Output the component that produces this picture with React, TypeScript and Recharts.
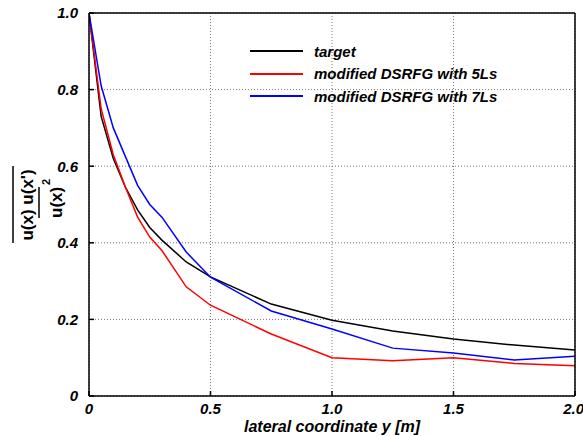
import React from 'react';
import { LineChart, Line, XAxis, YAxis, CartesianGrid } from 'recharts';

const lateralY = [0, 0.05, 0.1, 0.15, 0.2, 0.25, 0.3, 0.4, 0.5, 0.75, 1.0, 1.25, 1.5, 1.75, 2.0];
const target = [1.0, 0.73, 0.62, 0.545, 0.486, 0.44, 0.407, 0.35, 0.311, 0.24, 0.198, 0.17, 0.149, 0.133, 0.12];
const dsrfg5 = [1.0, 0.75, 0.63, 0.545, 0.467, 0.415, 0.38, 0.285, 0.237, 0.162, 0.1, 0.092, 0.1, 0.085, 0.079];
const dsrfg7 = [1.0, 0.81, 0.7, 0.625, 0.55, 0.5, 0.467, 0.376, 0.31, 0.222, 0.175, 0.125, 0.112, 0.094, 0.104];

const xTicks = [0, 0.5, 1.0, 1.5, 2.0];
const yTicks = [0, 0.2, 0.4, 0.6, 0.8, 1.0];

const seriesNames = ['target', 'modified DSRFG with 5Ls', 'modified DSRFG with 7Ls'];
const seriesColors = ['#000000', '#ff0000', '#0000ff'];

const data = lateralY.map((y, i) => ({ y, target: target[i], dsrfg5: dsrfg5[i], dsrfg7: dsrfg7[i] }));

const font = 'Liberation Sans, Arial, sans-serif';
const fmt = (v: number) => (v === 0 ? '0' : v.toFixed(1));
const tickStyle = { fontFamily: font, fontSize: 15, fontWeight: 'bold', fontStyle: 'italic', fill: '#000' };

export default function App() {
  return (
    <div style={{ position: 'absolute', left: 0, top: 0, width: 583, height: 436, background: '#fff' }}>
      <LineChart width={583} height={436} data={data} margin={{ top: 12, right: 7, bottom: 15, left: 39 }}>
        <CartesianGrid stroke="#555" strokeDasharray="1 2" strokeWidth={0.8} />
        <XAxis
          dataKey="y"
          type="number"
          domain={[0, 2]}
          ticks={xTicks}
          tickFormatter={fmt}
          height={25}
          stroke="#000"
          strokeWidth={1.5}
          tickSize={-5}
          tickMargin={12}
          tick={tickStyle}
          allowDataOverflow
        />
        <XAxis xAxisId="top" orientation="top" dataKey="y" type="number" domain={[0, 2]} ticks={xTicks} height={1} stroke="#000" strokeWidth={1.5} tickSize={-5} tick={false} />
        <YAxis
          type="number"
          domain={[0, 1]}
          ticks={yTicks}
          tickFormatter={fmt}
          width={50}
          stroke="#000"
          strokeWidth={1.5}
          tickSize={-5}
          tickMargin={16}
          tick={tickStyle}
        />
        <YAxis yAxisId="right" orientation="right" type="number" domain={[0, 1]} ticks={yTicks} width={1} stroke="#000" strokeWidth={1.5} tickSize={-5} tick={false} />
        <Line dataKey="target" name={seriesNames[0]} stroke={seriesColors[0]} strokeWidth={1.5} dot={false} isAnimationActive={false} />
        <Line dataKey="dsrfg5" name={seriesNames[1]} stroke={seriesColors[1]} strokeWidth={1.5} dot={false} isAnimationActive={false} />
        <Line dataKey="dsrfg7" name={seriesNames[2]} stroke={seriesColors[2]} strokeWidth={1.5} dot={false} isAnimationActive={false} />
      </LineChart>
      <div style={{ position: 'absolute', left: 250, top: 40, fontFamily: font, fontSize: 15, fontWeight: 'bold', fontStyle: 'italic' }}>
        {seriesNames.map((n, i) => (
          <div key={n} style={{ display: 'flex', alignItems: 'center', height: 22.5 }}>
            <span style={{ display: 'inline-block', width: 53, height: 2, background: seriesColors[i], marginRight: 11 }} />
            <span>{n}</span>
          </div>
        ))}
      </div>
      <div style={{ position: 'absolute', left: 89, width: 486, top: 419, lineHeight: '16px', textAlign: 'center', fontFamily: font, fontSize: 16, fontWeight: 'bold', fontStyle: 'italic' }}>
        lateral coordinate y [m]
      </div>
      <svg width={80} height={436} style={{ position: 'absolute', left: 0, top: 0 }}>
        <g fontFamily={font} fontWeight="bold" fontSize={17} fill="#000">
          <text transform="translate(33,205) rotate(-90)" textAnchor="middle">u(x) u(x')</text>
          <line x1={13} y1={166} x2={13} y2={243} stroke="#000" strokeWidth={1.5} />
          <line x1={39} y1={187} x2={39} y2={218} stroke="#000" strokeWidth={1.5} />
          <text transform="translate(62,218) rotate(-90)" textAnchor="start">u(x)</text>
          <text transform="translate(50,185) rotate(-90)" fontSize={11}>2</text>
        </g>
      </svg>
    </div>
  );
}
